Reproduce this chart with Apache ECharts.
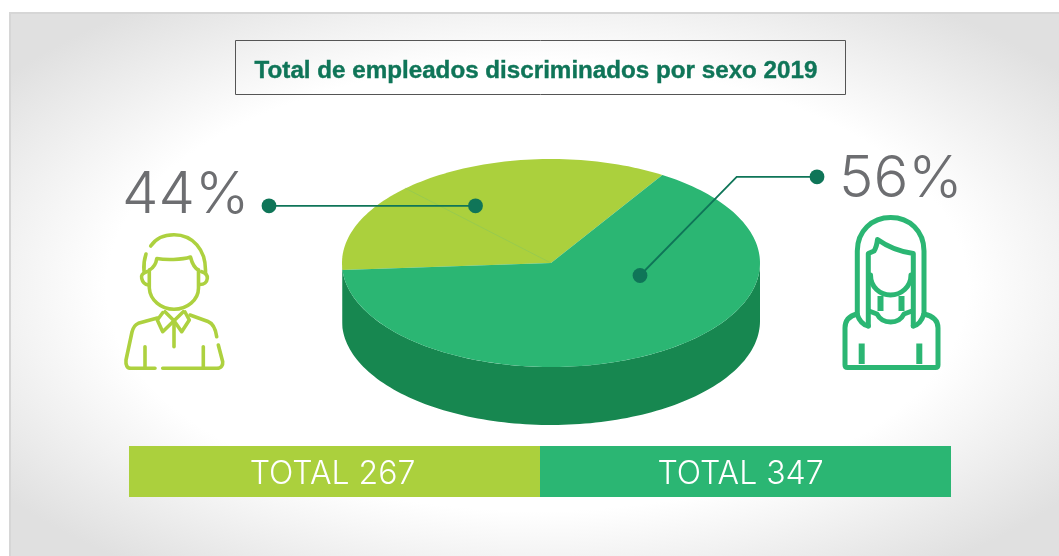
<!DOCTYPE html>
<html>
<head>
<meta charset="utf-8">
<script src="https://cdn.jsdelivr.net/npm/echarts@6/dist/echarts.min.js"></script>
<style>
html,body{margin:0;padding:0;background:#fff;width:1059px;height:556px;overflow:hidden}
#panel{position:absolute;left:9px;top:12px;width:1050px;height:544px;box-sizing:border-box;border-left:2px solid #d6d6d6;border-top:2px solid #d6d6d6;
background:radial-gradient(ellipse 742px 386px at 526px 273px,#fff 0%,#fff 58%,#e0e0e0 90%,#e0e0e0 100%)}
#chart{position:absolute;left:0;top:0;width:1059px;height:556px}
</style>
</head>
<body>
<div id="panel"></div>
<div id="chart"></div>
<script>
var titleText = 'Total de empleados discriminados por sexo 2019';
var sliceNames = ['Hombres', 'Mujeres'];
var sliceShares = [35, 65];           // share of the drawn disc, as pictured
var shareLabels = ['44%', '56%'];
var totalLabels = ['TOTAL 267', 'TOTAL 347'];
var bandValues = [1, 1];
var lightGreen = '#abd03d';
var midGreen = '#2bb673';
var wallGreen = '#178750';
var leaderGreen = '#0f7558';

var CX = 551, CY = 263, RX = 209, RY = 104, DEPTH = 58;
var START_DEG = 57.8;    // first slice begins here, running counter-clockwise on screen
var SEAM_SHARE = 21.2;   // faint seam inside the first slice

var shareSum = sliceShares.reduce(function (a, b) { return a + b; }, 0);
function angleAt(cum) { return START_DEG + cum / shareSum * 360; }
function pt(deg, dy) {
  var r = deg * Math.PI / 180;
  return [CX + RX * Math.cos(r), CY - RY * Math.sin(r) + (dy || 0)];
}
function cumBefore(i) {
  var c = 0; for (var k = 0; k < i; k++) c += sliceShares[k]; return c;
}
function arc(a0, a1, dy) {
  var out = [], n = Math.max(2, Math.ceil(Math.abs(a1 - a0) / 1.5));
  for (var i = 0; i <= n; i++) out.push(pt(a0 + (a1 - a0) * i / n, dy));
  return out;
}
function renderTop(params, api) {
  var i = params.dataIndex;
  var a0 = angleAt(cumBefore(i)), a1 = a0 + api.value(0) / shareSum * 360;
  var children = [{
    type: 'polygon',
    shape: { points: [[CX, CY]].concat(arc(a0, a1)) },
    style: { fill: api.visual('color') }
  }];
  if (i === 0) {
    var s = pt(angleAt(SEAM_SHARE));
    children.push({
      type: 'line',
      shape: { x1: s[0], y1: s[1], x2: CX, y2: CY },
      style: { stroke: '#93c952', lineWidth: 0.8 }
    });
  }
  return { type: 'group', children: children };
}
function renderWall(params, api) {
  var i = params.dataIndex;
  var a0 = angleAt(cumBefore(i)), a1 = a0 + api.value(0) / shareSum * 360;
  var lo = Math.max(a0, 180), hi = Math.min(a1, 360);
  if (hi <= lo) return { type: 'group', children: [] };
  var top = arc(lo, hi, 0), bottom = arc(hi, lo, DEPTH);
  return {
    type: 'polygon',
    shape: { points: top.concat(bottom) },
    style: { fill: wallGreen }
  };
}
var pieData = sliceShares.map(function (v, i) {
  return { name: sliceNames[i], value: [v], itemStyle: { color: i === 0 ? lightGreen : midGreen } };
});

var manIcon = [
  'M150.7 246C156 238 165 234.7 174 234.7C193 234.7 205.5 250 205.5 270L205.5 273',
  'M146 254C144 260 143.5 265 144 271',
  'M146.7 271.7C142 273 141 276 141.7 278.3C142.5 282 145 284.5 148.5 285',
  'M201.7 271.7C206 273 207.5 276 207.3 278.3C207 282 204 284.5 200 284.5',
  'M149.5 270C153 268 156 264 156.8 258.5C165 260 182 260 190.5 257C192 263 194 268 198.5 270',
  'M149.3 270L149.3 288C150 300 161 309.3 174 309.3C187 309.3 198.5 300 198.5 288L198.5 270',
  'M162.7 312.7L157.3 320L162.7 331.7L174 320.7L181.7 331.7L189.3 320L185 312',
  'M165 311.7L174 320.7L183.3 311.7',
  'M174 320.7L174 346.7',
  'M157.3 318L138.3 323.3C134 325 133 328 132 332L126 360C125.5 365 127 368.3 131 368.3L155 368.3',
  'M162.7 368.3L217 368.3C221.5 368.3 223 365 222.7 361.7L218.3 345',
  'M190 315L208 321.5C212 323 215.5 328 216.7 336.7',
  'M145 346.7L145 366.7',
  'M203.3 346.7L203.3 366.7'
];
var womanIcon = [
  'M857.3 314L857.3 251C857.3 231 872 217.5 890.7 217.5C909.5 217.5 924 231 924 251L924 314',
  'M868.3 326L868.3 253.5L874 251C876 248 877 244 877.5 239.5C888 247 902 252 913.3 253.5L913.3 326',
  'M870.5 275C870.5 287 880 295 890.5 295C901 295 911 287 911 275',
  'M869 311L877 314C880 320 885 322 890.7 322C896 322 901 320 904 314L912 311',
  'M857 314C849 316 845 321 845 328L845 365Q845 367.5 847.5 367.5L935.5 367.5Q938 367.5 938 365L938 328C938 321 933 316 924 314',
  'M857 314C859 320 862 325 868.3 326',
  'M924 314C922 320 919 325 913.3 326'
];
var womanThick = ['M861.7 343.5L861.7 364', 'M919.3 343.5L919.3 364', 'M880.5 296L880.5 311', 'M901.5 296L901.5 311'];

function iconSeries(list, colour, width, cap) {
  return {
    type: 'custom', coordinateSystem: 'none', z: 50, silent: true,
    data: list.map(function (d, i) { return [i]; }),
    renderItem: function (params) {
      return {
        type: 'path',
        shape: { pathData: list[params.dataIndex] },
        style: { fill: 'none', stroke: colour, lineWidth: width, lineCap: cap, lineJoin: 'round' }
      };
    }
  };
}
function dot(x, y) {
  return { type: 'circle', z: 62, shape: { cx: x, cy: y, r: 7.4 }, style: { fill: leaderGreen } };
}

var chart = echarts.init(document.getElementById('chart'), null, { renderer: 'canvas' });
chart.setOption({
  animation: false,
  backgroundColor: 'transparent',
  title: {
    text: titleText, left: 531, top: 54, textAlign: 'center',
    textStyle: { fontFamily: 'Liberation Sans', fontWeight: 'bold', fontSize: 24.2, color: leaderGreen,
      textBorderColor: leaderGreen, textBorderWidth: 0.4 }
  },
  grid: { left: 129, top: 446, width: 822, height: 51 },
  xAxis: { type: 'category', data: totalLabels, show: false },
  yAxis: { type: 'value', min: 0, max: 1, show: false },
  series: [
    { type: 'custom', coordinateSystem: 'none', z: 1, data: pieData, renderItem: renderWall, silent: true },
    { type: 'custom', coordinateSystem: 'none', z: 2, data: pieData, renderItem: renderTop, silent: true },
    {
      type: 'bar', barWidth: '100%', z: 3, silent: true,
      data: bandValues.map(function (v, i) {
        return {
          value: v,
          itemStyle: { color: i === 0 ? lightGreen : midGreen },
          label: { offset: i === 0 ? [-2, 3] : [-5, 3] }
        };
      }),
      label: {
        show: true, position: 'inside',
        formatter: function (p) { return totalLabels[p.dataIndex]; },
        fontFamily: 'Inter', fontWeight: 300, fontSize: 32, color: '#fff'
      }
    },
    iconSeries(manIcon, '#add13f', 3.6, 'round'),
    iconSeries(womanIcon, midGreen, 5, 'round'),
    iconSeries(womanThick, midGreen, 6, 'butt')
  ],
  graphic: [
    { type: 'rect', z: 40, shape: { x: 235.5, y: 40.5, width: 610, height: 54 },
      style: { fill: 'none', stroke: '#555', lineWidth: 1 } },
    { type: 'text', z: 60, style: { text: shareLabels[0], x: 122, y: 167, align: 'left', verticalAlign: 'top',
      font: '300 58px Inter', fill: '#6d6e71' } },
    { type: 'text', z: 60, style: { text: shareLabels[1], x: 839, y: 151, align: 'left', verticalAlign: 'top',
      font: '300 58px Inter', fill: '#6d6e71' } },
    { type: 'polyline', z: 61, shape: { points: [[269, 205.8], [475.5, 205.8]] },
      style: { fill: 'none', stroke: leaderGreen, lineWidth: 1.8 } },
    { type: 'polyline', z: 61, shape: { points: [[817, 176.8], [736.7, 176.8], [640, 275.5]] },
      style: { fill: 'none', stroke: leaderGreen, lineWidth: 1.8 } },
    dot(269, 205.8), dot(475.5, 205.8), dot(817, 176.8), dot(640, 275.5)
  ]
});
</script>
</body>
</html>
